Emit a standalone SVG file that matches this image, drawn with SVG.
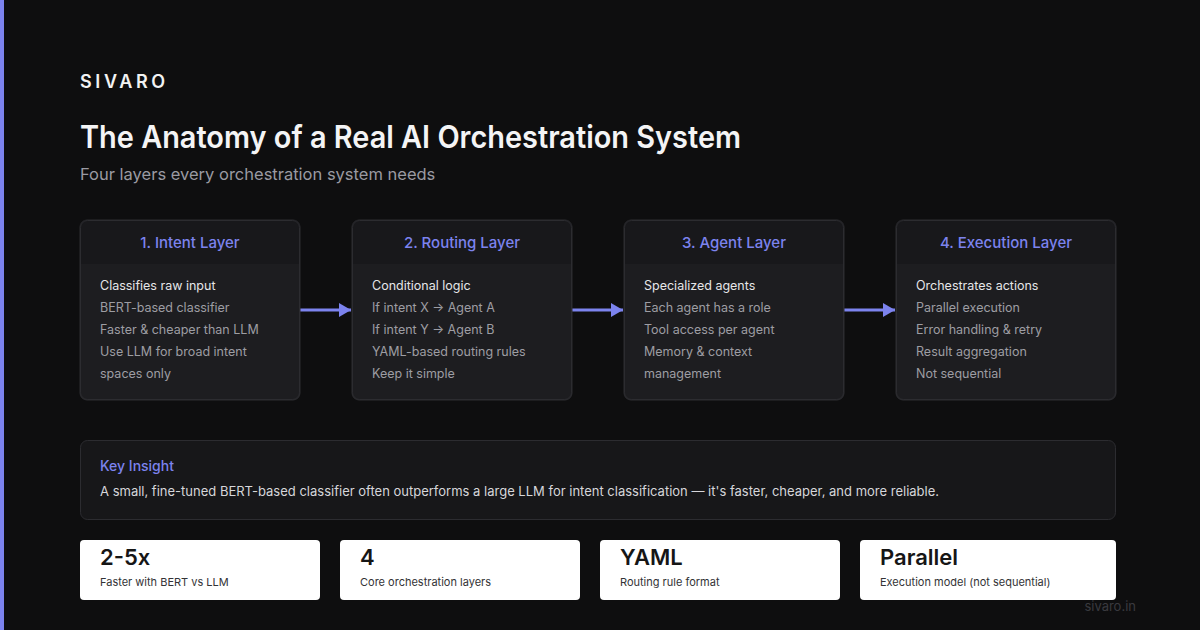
<svg xmlns="http://www.w3.org/2000/svg" width="1200" height="630" viewBox="0 0 1200 630">
<defs>
<style>
text{font-family:Inter,"Noto Sans","Liberation Sans",sans-serif}
.card{fill:#1d1d20;stroke:#2c2c30;stroke-width:1}
.hdr{fill:#18181b}
.ht{font-size:15px;font-weight:500;fill:#7c83ee;text-anchor:middle}
.b1{font-size:12.5px;fill:#e6e6e8}
.b2{font-size:12.5px;fill:#9d9da3}
.stat{fill:#ffffff}
.sv{font-size:22px;font-weight:600;fill:#161616}
.sl{font-size:11px;fill:#333336}
.conn{stroke:#7c83ee;stroke-width:3;fill:none}
</style>
<marker id="ah" markerWidth="12" markerHeight="14" refX="12" refY="7" orient="auto" markerUnits="userSpaceOnUse">
<path d="M0,0 L12,7 L0,14 Z" fill="#7c83ee"/>
</marker>
<clipPath id="c1"><rect x="80" y="220" width="220" height="180" rx="7"/></clipPath>
<clipPath id="c2"><rect x="352" y="220" width="220" height="180" rx="7"/></clipPath>
<clipPath id="c3"><rect x="624" y="220" width="220" height="180" rx="7"/></clipPath>
<clipPath id="c4"><rect x="896" y="220" width="220" height="180" rx="7"/></clipPath>
</defs>
<rect x="0" y="0" width="1200" height="630" fill="#0e0e0f"/>
<rect x="0" y="0" width="4" height="630" fill="#7c83ee"/>

<text x="80" y="88" font-size="18" font-weight="600" fill="#f2f2f2" letter-spacing="3.6">SIVARO</text>
<text x="80" y="148" font-size="31" font-weight="600" fill="#f4f4f5" textLength="661" lengthAdjust="spacingAndGlyphs">The Anatomy of a Real AI Orchestration System</text>
<text x="80" y="180" font-size="16.5" fill="#9a9aa2">Four layers every orchestration system needs</text>

<g id="connectors">
<line class="conn" x1="300" y1="310" x2="351" y2="310" marker-end="url(#ah)"/>
<line class="conn" x1="572" y1="310" x2="623" y2="310" marker-end="url(#ah)"/>
<line class="conn" x1="844" y1="310" x2="895" y2="310" marker-end="url(#ah)"/>
</g>

<g id="intent">
<rect class="card" x="80" y="220" width="220" height="180" rx="7"/>
<rect class="hdr" x="80" y="220" width="220" height="44" clip-path="url(#c1)"/>
<rect x="80.5" y="220.5" width="219" height="179" rx="7" fill="none" stroke="#2c2c30"/>
<text class="ht" x="190" y="248">1. Intent Layer</text>
<text class="b1" x="100" y="290">Classifies raw input</text>
<text class="b2" x="100" y="312">BERT-based classifier</text>
<text class="b2" x="100" y="334">Faster &amp; cheaper than LLM</text>
<text class="b2" x="100" y="356">Use LLM for broad intent</text>
<text class="b2" x="100" y="378">spaces only</text>
</g>

<g id="routing">
<rect class="card" x="352" y="220" width="220" height="180" rx="7"/>
<rect class="hdr" x="352" y="220" width="220" height="44" clip-path="url(#c2)"/>
<rect x="352.5" y="220.5" width="219" height="179" rx="7" fill="none" stroke="#2c2c30"/>
<text class="ht" x="462" y="248">2. Routing Layer</text>
<text class="b1" x="372" y="290">Conditional logic</text>
<text class="b2" x="372" y="312">If intent X → Agent A</text>
<text class="b2" x="372" y="334">If intent Y → Agent B</text>
<text class="b2" x="372" y="356">YAML-based routing rules</text>
<text class="b2" x="372" y="378">Keep it simple</text>
</g>

<g id="agent">
<rect class="card" x="624" y="220" width="220" height="180" rx="7"/>
<rect class="hdr" x="624" y="220" width="220" height="44" clip-path="url(#c3)"/>
<rect x="624.5" y="220.5" width="219" height="179" rx="7" fill="none" stroke="#2c2c30"/>
<text class="ht" x="734" y="248">3. Agent Layer</text>
<text class="b1" x="644" y="290">Specialized agents</text>
<text class="b2" x="644" y="312">Each agent has a role</text>
<text class="b2" x="644" y="334">Tool access per agent</text>
<text class="b2" x="644" y="356">Memory &amp; context</text>
<text class="b2" x="644" y="378">management</text>
</g>

<g id="execution">
<rect class="card" x="896" y="220" width="220" height="180" rx="7"/>
<rect class="hdr" x="896" y="220" width="220" height="44" clip-path="url(#c4)"/>
<rect x="896.5" y="220.5" width="219" height="179" rx="7" fill="none" stroke="#2c2c30"/>
<text class="ht" x="1006" y="248">4. Execution Layer</text>
<text class="b1" x="916" y="290">Orchestrates actions</text>
<text class="b2" x="916" y="312">Parallel execution</text>
<text class="b2" x="916" y="334">Error handling &amp; retry</text>
<text class="b2" x="916" y="356">Result aggregation</text>
<text class="b2" x="916" y="378">Not sequential</text>
</g>

<g id="insight">
<rect x="80.5" y="440.5" width="1035" height="79" rx="7" fill="#171719" stroke="#2c2c30"/>
<text x="100" y="471" font-size="14" font-weight="500" fill="#7c83ee">Key Insight</text>
<text x="100" y="496" font-size="13" fill="#d6d6da">A small, fine-tuned BERT-based classifier often outperforms a large LLM for intent classification — it's faster, cheaper, and more reliable.</text>
</g>

<g id="stat1">
<rect class="stat" x="80" y="540" width="240" height="60" rx="4"/>
<text class="sv" x="100" y="565">2-5x</text>
<text class="sl" x="100" y="586">Faster with BERT vs LLM</text>
</g>
<g id="stat2">
<rect class="stat" x="340" y="540" width="240" height="60" rx="4"/>
<text class="sv" x="360" y="565">4</text>
<text class="sl" x="360" y="586">Core orchestration layers</text>
</g>
<g id="stat3">
<rect class="stat" x="600" y="540" width="240" height="60" rx="4"/>
<text class="sv" x="620" y="565">YAML</text>
<text class="sl" x="620" y="586">Routing rule format</text>
</g>
<g id="stat4">
<rect class="stat" x="860" y="540" width="256" height="60" rx="4"/>
<text class="sv" x="880" y="565">Parallel</text>
<text class="sl" x="880" y="586">Execution model (not sequential)</text>
</g>

<text x="1136" y="611" font-size="13" fill="#3a3a3f" text-anchor="end">sivaro.in</text>
</svg>
